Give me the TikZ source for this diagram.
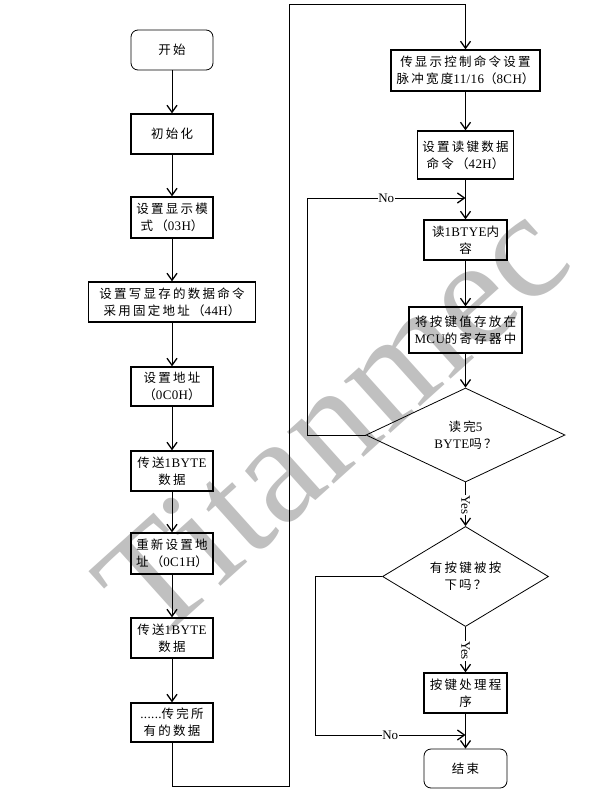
\documentclass[tikz,border=0pt]{standalone}
\usepackage{fontspec}
\setmainfont{Liberation Serif}
\newfontfamily\latf{Liberation Serif}[LetterSpace=3]
\newfontfamily\cjk{Noto Sans CJK SC}[LetterSpace=18]
\newfontfamily\wmfont{Liberation Serif}
\usetikzlibrary{arrows.meta,shapes.geometric}
\newcommand\zh[1]{{\cjk #1}}
\newcommand\la[1]{{\latf\fontsize{13}{17}\selectfont #1}}
\definecolor{wm}{RGB}{192,192,192}
\tikzset{
  base/.style={align=center, inner sep=1pt, font=\fontsize{12.5}{17}\selectfont},
  box/.style={base, draw, line width=1.3pt},
  term/.style={base, draw, line width=0.8pt, rounded corners=7pt},
  dec/.style={base, draw, diamond, line width=0.8pt, inner sep=0pt},
  arr/.style={line width=0.8pt, -{Straight Barb[length=7pt,width=10pt,line width=1.3pt]}},
  lbl/.style={font=\fontsize{13}{13}\selectfont, fill=white, inner sep=0.5pt},
}
\begin{document}
\begin{tikzpicture}[x=1pt,y=-1pt]
\useasboundingbox (0,0) rectangle (593,802);
% watermark
\node[text=wm, rotate=42, font=\fontsize{152}{152}\wmfont] (wmark) at (332,420) {Titanmec};
% left column
\node[term, minimum width=82pt, minimum height=40pt] (start) at (172,50) {\zh{开始}};
\node[box, minimum width=82pt, minimum height=40pt] (init) at (172,134) {\zh{初始化}};
\node[box, minimum width=82pt, minimum height=41pt] (mode) at (172,217.5) {\zh{设置显示模}\\\zh{式（}\la{03H}\zh{）}};
\node[box, minimum width=167pt, minimum height=40pt] (cmd) at (172,302) {\zh{设置写显存的数据命令}\\\zh{采用固定地址（}\la{44H}\zh{）}};
\node[box, minimum width=82pt, minimum height=39pt] (addr) at (172,386.5) {\zh{设置地址}\\\zh{（}\la{0C0H}\zh{）}};
\node[box, minimum width=82pt, minimum height=40pt] (send1) at (172,471) {\zh{传送}\la{1BYTE}\\\zh{数据}};
\node[box, minimum width=82pt, minimum height=41pt] (readdr) at (172,553.5) {\zh{重新设置地}\\\zh{址（}\la{0C1H}\zh{）}};
\node[box, minimum width=82pt, minimum height=40pt] (send2) at (172,638) {\zh{传送}\la{1BYTE}\\\zh{数据}};
\node[box, minimum width=82pt, minimum height=39pt] (all) at (172,722.5) {\la{......}\zh{传完所}\\\zh{有的数据}};
% right column
\node[box, minimum width=149pt, minimum height=41pt] (ctrl) at (465.5,70.5) {\zh{传显示控制命令设置}\\\zh{脉冲宽度}\la{11/16}\zh{（}\la{8CH}\zh{）}};
\node[box, minimum width=96pt, minimum height=48pt] (readcmd) at (465.5,155) {\zh{设置读键数据}\\\zh{命令（}\la{42H}\zh{）}};
\node[box, minimum width=83pt, minimum height=40pt] (read1) at (465.5,240) {\zh{读}\la{1BTYE}\zh{内}\\\zh{容}};
\node[box, minimum width=113pt, minimum height=46pt] (store) at (465.5,330) {\zh{将按键值存放在}\\\la{MCU}\zh{的寄存器中}};
\node[dec, minimum width=199pt, minimum height=94pt] (dia1) at (465.5,435) {\zh{读完}\la{5}\\\la{BYTE}\zh{吗？}};
\node[dec, minimum width=166pt, minimum height=83pt] (dia2) at (465.5,576.5) {\zh{有按键被按}\\\zh{下吗？}};
\node[box, minimum width=83pt, minimum height=40pt] (proc) at (465.5,693) {\zh{按键处理程}\\\zh{序}};
\node[term, minimum width=83pt, minimum height=39pt] (end) at (465.5,768.5) {\zh{结束}};
% helper coordinates
\coordinate (t1) at (289,786);
\coordinate (t2) at (289,4);
\coordinate (n1) at (307,198);
\coordinate (j1) at (465.5,198);
\coordinate (n2) at (315,735);
\coordinate (j2) at (465.5,735);
% connectors
\draw[arr] (start) -- (init);
\draw[arr] (init) -- (mode);
\draw[arr] (mode) -- (cmd);
\draw[arr] (cmd) -- (addr);
\draw[arr] (addr) -- (send1);
\draw[arr] (send1) -- (readdr);
\draw[arr] (readdr) -- (send2);
\draw[arr] (send2) -- (all);
\draw[arr] (all.south) |- (t1) -- (t2) -| (ctrl.north);
\draw[arr] (ctrl) -- (readcmd);
\draw[arr] (readcmd) -- (read1);
\draw[arr] (read1) -- (store);
\draw[arr] (store) -- (dia1);
\draw[arr] (dia1.west) -| (n1) -- node[lbl] {No} (j1);
\draw[arr] (dia1.south) -- node[lbl, rotate=-90, pos=0.52] {Yes} (dia2.north);
\draw[arr] (dia2.west) -| (n2) -- node[lbl] {No} (j2);
\draw[arr] (dia2.south) -- node[lbl, rotate=-90, pos=0.52] {Yes} (proc.north);
\draw[arr] (proc) -- (end);
\end{tikzpicture}
\end{document}
